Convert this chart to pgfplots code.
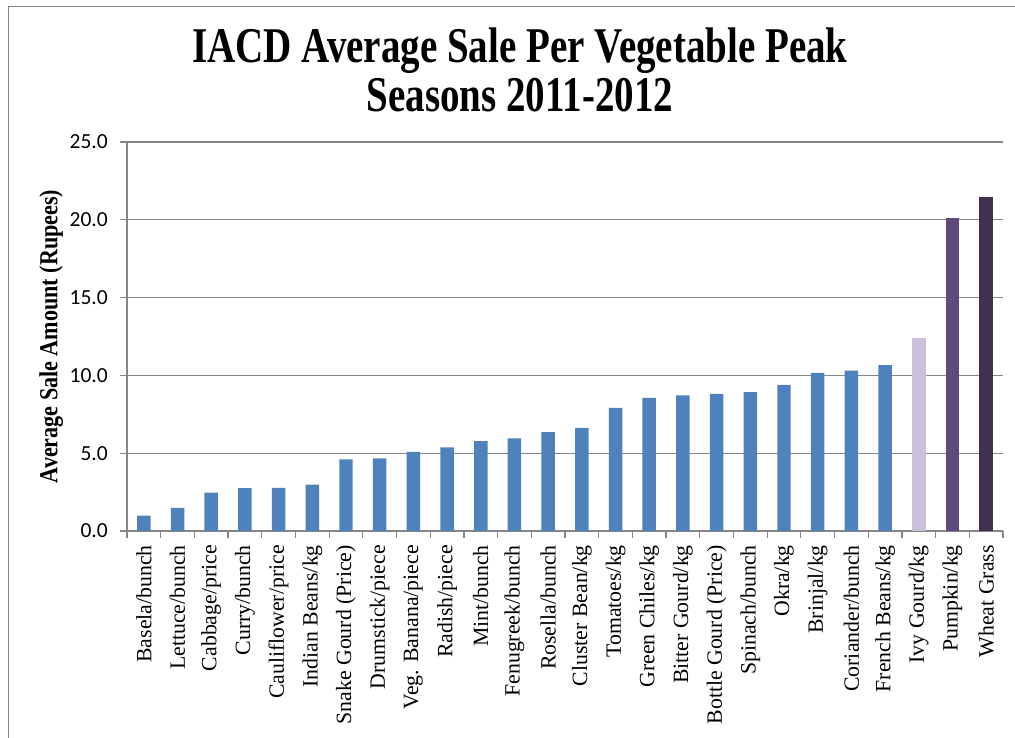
\documentclass[border=0pt]{standalone}
\usepackage{pgfplots}
\pgfplotsset{compat=1.18}
\usepackage{fontspec}
\setmainfont{Liberation Serif}
\newfontfamily\carlito{Carlito}
\newfontfamily\titlefont[FakeStretch=0.78]{Liberation Serif}
\newfontfamily\ylabfont[FakeStretch=0.85]{Liberation Serif}
\definecolor{barblue}{HTML}{4F81BD}
\definecolor{ivy}{HTML}{CCC1DA}
\definecolor{pumpkin}{HTML}{604A7B}
\definecolor{wheat}{HTML}{403151}
\definecolor{gridgray}{HTML}{868686}

\begin{document}
\begin{tikzpicture}
\begin{axis}[
    scale only axis,
    width=876pt, height=389pt,
    ybar, bar width=0.4, bar shift=0pt,
    xmin=-0.5, xmax=25.5,
    ymin=0, ymax=25,
    axis x line*=bottom, axis y line*=left,
    axis line style={gridgray, line width=1.2pt},
    tick align=outside,
    major tick length=7pt, minor tick length=7pt,
    tick style={gridgray, line width=1.2pt},
    ymajorgrids,
    major grid style={gridgray, line width=1.3pt},
    ytick={0,5,...,25},
    yticklabel style={font=\carlito\fontsize{21.5}{21.5}\selectfont, anchor=east, inner sep=0pt,
        /pgf/number format/fixed, /pgf/number format/fixed zerofill,
        /pgf/number format/precision=1, /pgf/number format/assume math mode=true},
    yticklabel shift=12pt,
    xtick={0,...,25},
    major x tick style={draw=none},
    minor xtick={-0.5,0.5,...,25.5},
    xticklabels={Basela/bunch, Lettuce/bunch, Cabbage/price, Curry/bunch, Cauliflower/price,
        Indian Beans/kg, Snake Gourd (Price), Drumstick/piece, Veg. Banana/piece, Radish/piece,
        Mint/bunch, Fenugreek/bunch, Rosella/bunch, Cluster Bean/kg, Tomatoes/kg,
        Green Chiles/kg, Bitter Gourd/kg, Bottle Gourd (Price), Spinach/bunch, Okra/kg,
        Brinjal/kg, Coriander/bunch, French Beans/kg, Ivy Gourd/kg, Pumpkin/kg, Wheat Grass},
    xticklabel style={rotate=90, anchor=east, inner sep=0pt, font=\fontsize{21.8}{22}\selectfont},
    xticklabel shift=7pt,
    ylabel={Average Sale Amount (Rupees)},
    ylabel style={font=\ylabfont\bfseries\fontsize{26}{26}\selectfont,
        at={(axis description cs:-0.0865,0.5)}, anchor=center},
]
% blue bars
\addplot[fill=barblue, draw=none] coordinates {
    (0,0.98) (1,1.48) (2,2.47) (3,2.75) (4,2.77) (5,2.98)
    (6,4.61) (7,4.67) (8,5.08) (9,5.38) (10,5.77) (11,5.96)
    (12,6.35) (13,6.62) (14,7.91) (15,8.55) (16,8.71) (17,8.81)
    (18,8.92) (19,9.39) (20,10.16) (21,10.31) (22,10.66)
};
\addplot[fill=ivy, draw=none] coordinates {(23,12.39)};
\addplot[fill=pumpkin, draw=none] coordinates {(24,20.11)};
\addplot[fill=wheat, draw=none] coordinates {(25,21.46)};
\end{axis}

% chart frame (cut at right and bottom)
\draw[gridgray, line width=1.5pt] (-118.5pt,-300pt) -- (-118.5pt,524.5pt) -- (1000pt,524.5pt);

\node[anchor=base, font=\titlefont\bfseries\fontsize{50}{50}\selectfont] at (393pt,468pt)
    {IACD Average Sale Per Vegetable Peak};
\node[anchor=base, font=\titlefont\bfseries\fontsize{50}{50}\selectfont] at (393pt,419pt)
    {Seasons 2011-2012};

\pgfresetboundingbox
\useasboundingbox (-127pt,-207pt) rectangle (888pt,531pt);
\end{tikzpicture}
\end{document}
